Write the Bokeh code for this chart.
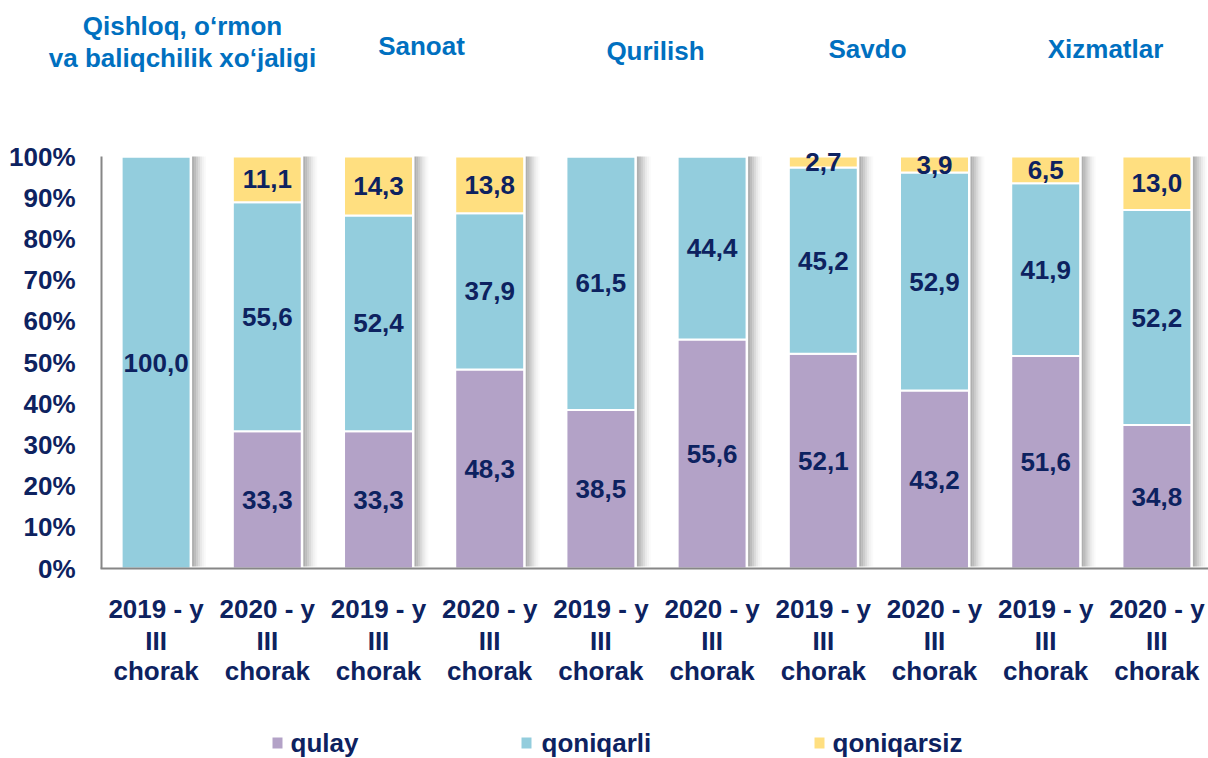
import numpy as np
from bokeh.plotting import figure
from bokeh.models import ColumnDataSource, Range1d
from bokeh.core.properties import value
from bokeh.embed import file_html
from bokeh.resources import INLINE

# ---- data ----
categories = ["2019 - y", "2020 - y", "2019 - y", "2020 - y", "2019 - y",
              "2020 - y", "2019 - y", "2020 - y", "2019 - y", "2020 - y"]
qulay = [0.0, 33.3, 33.3, 48.3, 38.5, 55.6, 52.1, 43.2, 51.6, 34.8]
qoniqarli = [100.0, 55.6, 52.4, 37.9, 61.5, 44.4, 45.2, 52.9, 41.9, 52.2]
qoniqarsiz = [0.0, 11.1, 14.3, 13.8, 0.0, 0.0, 2.7, 3.9, 6.5, 13.0]
series_names = ["qulay", "qoniqarli", "qoniqarsiz"]
groups = ["Qishloq, o‘rmon\nva baliqchilik xo‘jaligi", "Sanoat", "Qurilish", "Savdo", "Xizmatlar"]
y_ticks = [0, 10, 20, 30, 40, 50, 60, 70, 80, 90, 100]

# ---- styling ----
colors = ["#B3A2C7", "#93CDDD", "#FFDF80"]
NAVY = "#0D2260"
BLUE = "#0070C0"
FONT = value("Liberation Sans")
PX_X = 111.2   # pixels per category
PX_Y = 412.0   # pixels per unit (100%)
W, H = 1208, 758


def pxx(pix):
    return (pix - 100) / PX_X - 0.5


def py(pix):
    return 1 + (156 - pix) / PX_Y


x0, x1 = pxx(0), pxx(W)
y0, y1 = py(H), py(0)

p = figure(width=W, height=H, output_backend="svg", toolbar_location=None,
           x_range=Range1d(x0, x1), y_range=Range1d(y0, y1),
           min_border_left=0, min_border_right=0, min_border_top=0, min_border_bottom=0)
p.outline_line_color = None
p.grid.visible = False
p.xaxis.visible = False
p.yaxis.visible = False

n = len(categories)
xs = np.arange(n)
bw = 0.62
a = np.array(qulay) / 100
b = np.array(qoniqarli) / 100
c = np.array(qoniqarsiz) / 100

# shadows to the right of each bar
sw = 2.0 / PX_X
alphas = [0.6, 0.5, 0.38, 0.27, 0.17, 0.09, 0.04]
for k, al in enumerate(alphas):
    p.quad(left=xs + bw / 2 + 1.5 / PX_X + k * sw, right=xs + bw / 2 + 1.5 / PX_X + (k + 1) * sw,
           bottom=np.full(n, 2 / PX_Y), top=np.full(n, 1.0),
           fill_color="#7A7A7A", fill_alpha=al, line_color=None)

bottoms = [np.zeros(n), a, a + b]
tops = [a, a + b, a + b + c]
for s in range(3):
    src = ColumnDataSource(dict(x=xs, bottom=bottoms[s], top=tops[s]))
    p.vbar(x="x", width=bw, bottom="bottom", top="top", source=src,
           fill_color=colors[s], line_color="white", line_width=2)

# value labels
raw = [qulay, qoniqarli, qoniqarsiz]
lx, ly, lt = [], [], []
for s in range(3):
    for i in range(n):
        if raw[s][i] > 0:
            lx.append(i)
            ly.append((bottoms[s][i] + tops[s][i]) / 2)
            lt.append(f"{raw[s][i]:.1f}".replace(".", ","))
p.text(x=lx, y=ly, text=lt, text_align="center", text_baseline="middle",
       text_font=FONT, text_font_style="bold", text_font_size="26px", text_color=NAVY)

# axis lines
p.segment(x0=[pxx(101)], y0=[0], x1=[pxx(101)], y1=[1.0], line_color="#868686", line_width=2)
p.segment(x0=[pxx(100)], y0=[py(568)], x1=[x1], y1=[py(568)], line_color="#868686", line_width=2)

# y tick labels
p.text(x=[pxx(75)] * len(y_ticks), y=[t / 100 for t in y_ticks],
       text=[f"{t}%" for t in y_ticks], text_align="right", text_baseline="middle",
       text_font=FONT, text_font_style="bold", text_font_size="26px", text_color=NAVY)

# category labels (three lines)
for txts, pix in [(categories, 608), (["III"] * n, 640), (["chorak"] * n, 670)]:
    p.text(x=list(xs), y=[py(pix)] * n, text=txts, text_align="center", text_baseline="middle",
           text_font=FONT, text_font_style="bold", text_font_size="26px", text_color=NAVY)

# group titles
title_pos = [(182, 41), (421, 45), (655, 50), (867, 48), (1105, 48)]
for g, (tx, ty) in zip(groups, title_pos):
    lines = g.split("\n")
    ys = [py(25), py(57)] if len(lines) == 2 else [py(ty)]
    p.text(x=[pxx(tx)] * len(lines), y=ys, text=lines, text_align="center",
           text_baseline="middle", text_font=FONT, text_font_style="bold",
           text_font_size="26px", text_color=BLUE)

# legend
leg_sq = [277, 526, 819]
leg_tx = [290, 541, 832]
for s in range(3):
    p.quad(left=[pxx(leg_sq[s] - 5)], right=[pxx(leg_sq[s] + 5)],
           bottom=[py(748)], top=[py(737)], fill_color=colors[s], line_color=None)
    p.text(x=[pxx(leg_tx[s])], y=[py(742)], text=[series_names[s]], text_align="left",
           text_baseline="middle", text_font=FONT, text_font_style="bold",
           text_font_size="26px", text_color=NAVY)

open("out.html", "w").write(file_html(p, INLINE))
